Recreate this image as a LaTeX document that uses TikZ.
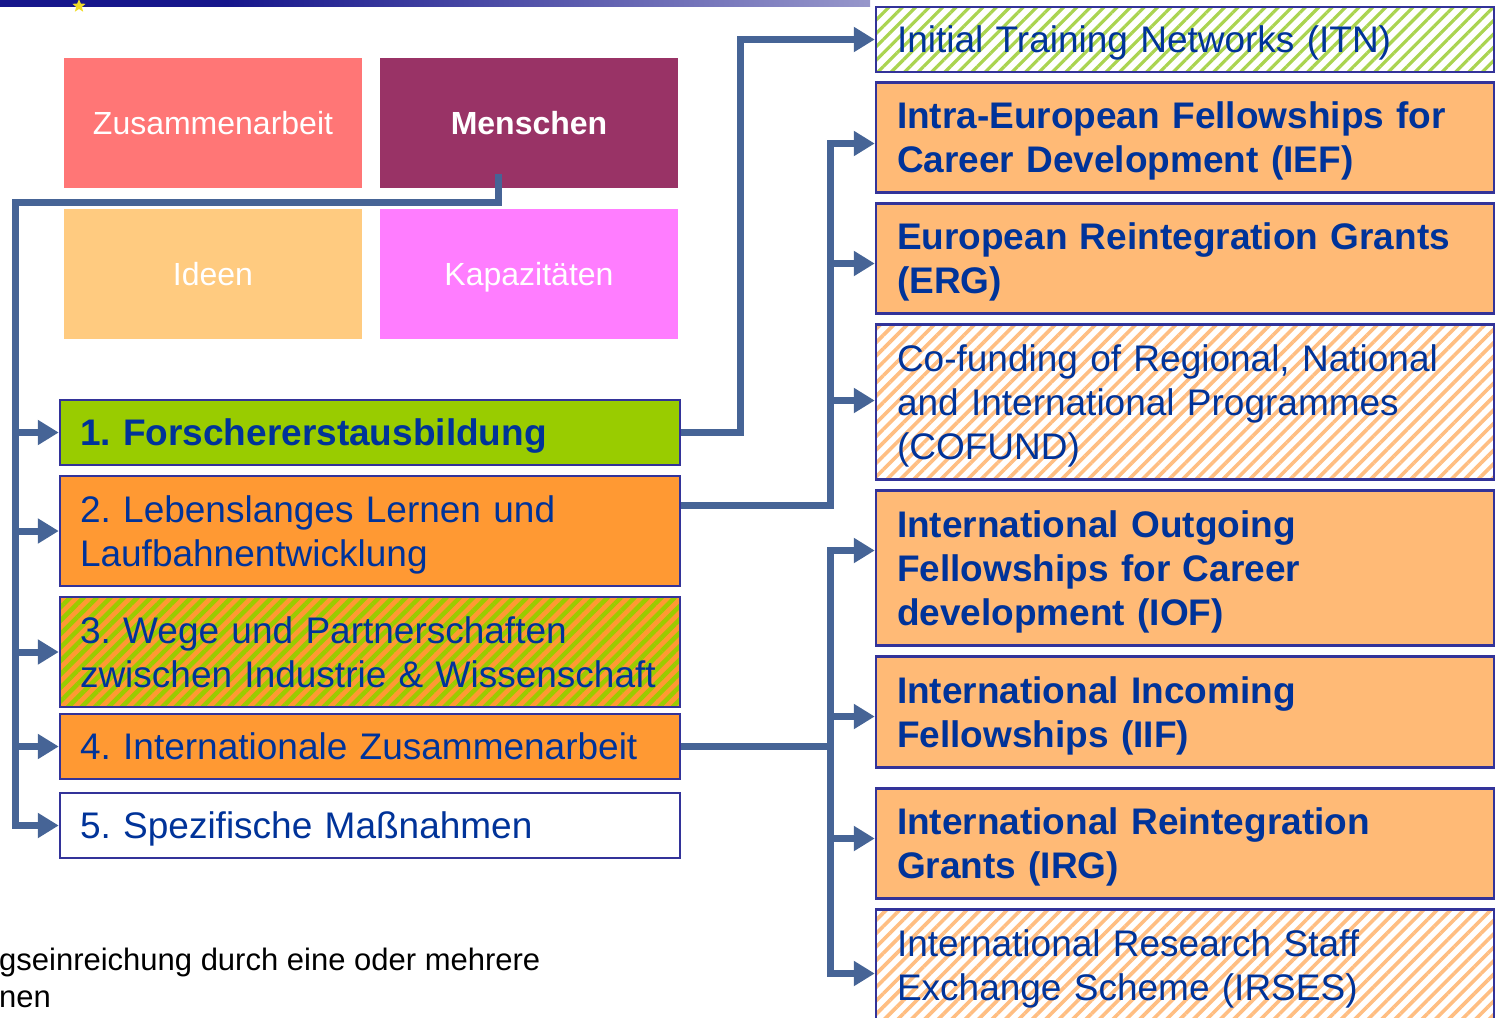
\documentclass[tikz,border=0pt]{standalone}
\usepackage{fontspec}
\setmainfont{Liberation Sans}
\usetikzlibrary{arrows.meta,patterns.meta,shapes.geometric,calc}
\definecolor{barnavy}{RGB}{22,22,140}
\definecolor{barlight}{RGB}{238,238,245}
\definecolor{bord}{RGB}{51,51,153}
\definecolor{txtblue}{RGB}{0,51,153}
\definecolor{conncol}{RGB}{70,100,150}
\definecolor{zusred}{RGB}{255,118,118}
\definecolor{menpurple}{RGB}{153,51,102}
\definecolor{ideorange}{RGB}{255,203,128}
\definecolor{kappink}{RGB}{255,125,255}
\definecolor{fgreen}{RGB}{153,204,0}
\definecolor{forange}{RGB}{255,153,51}
\definecolor{lorange}{RGB}{255,186,118}
\definecolor{stgreen}{RGB}{170,212,80}
\definecolor{storange}{RGB}{255,190,130}
\definecolor{staryellow}{RGB}{240,220,40}
\pgfdeclarehorizontalshading{barshade}{100bp}{color(0bp)=(barnavy); color(38bp)=(barnavy); color(100bp)=(barlight)}
\newcommand{\ustrutA}{\rule[-9pt]{0pt}{44.5pt}}
\newcommand{\ustrutB}{\rule[-9pt]{0pt}{9pt}}
\newcommand{\ustrutC}{\rule[-8pt]{0pt}{38.9pt}}
\newcommand{\ustrutD}{\rule[-8pt]{0pt}{38.2pt}}
\newcommand{\ustrutE}{\rule[-8pt]{0pt}{8pt}}
\frenchspacing
\begin{document}
\begin{tikzpicture}[x=1pt,y=-1pt,
  >={Triangle[length=21pt,width=24pt]},
  tbox/.style={minimum width=298pt, minimum height=130pt, inner sep=0pt, text=white,
    font=\fontsize{32}{38}\selectfont, execute at begin node=\ustrutC},
  item/.style={draw=bord, line width=2.5pt, text=txtblue, font=\fontsize{37}{44}\selectfont,
    align=left, inner ysep=0pt, minimum height=65pt,
    execute at begin node=\ustrutA, execute at end node=\ustrutB},
  boldf/.style={font=\fontsize{37}{44}\selectfont\bfseries},
  litem/.style={item, minimum width=620pt, text width=580pt, inner xsep=20pt},
  ritem/.style={item, minimum width=618pt, text width=576pt, inner xsep=21pt},
  stripeGO/.style={preaction={fill=forange},
    preaction={pattern={Lines[angle=45,distance=9.5pt,line width=4.5pt]}, pattern color=fgreen}},
  stripeITN/.style={preaction={fill=white},
    preaction={pattern={Lines[angle=45,distance=9.5pt,line width=3.2pt]}, pattern color=stgreen}},
  stripeCOF/.style={preaction={fill=white},
    preaction={pattern={Lines[angle=45,distance=9.5pt,line width=3.6pt]}, pattern color=storange}},
  conn/.style={draw=conncol, line width=7pt}
]
\useasboundingbox (0,0) rectangle (1495,1017);

% top bar
\shade[shading=barshade] (0,-1) rectangle (870,6.5);
\node[star, star points=5, star point ratio=2.3, fill=staryellow, inner sep=0pt, minimum size=14pt] (eustar) at (79,6) {};

% top-left boxes
\node[tbox, fill=zusred] (zus) at (213,123) {Zusammenarbeit};
\node[tbox, fill=menpurple, font=\fontsize{32}{38}\selectfont\bfseries] (men) at (529,123) {Menschen};
\node[tbox, fill=ideorange] (ide) at (213,274) {Ideen};
\node[tbox, fill=kappink] (kap) at (529,274) {Kapazitäten};

% left items
\node[litem, fill=fgreen, boldf] (b1) at (370,432.5) {1. Forschererstausbildung};
\node[litem, fill=forange, minimum height=110pt] (b2) at (370,531) {2. Lebenslanges Lernen und\\Laufbahnentwicklung};
\node[litem, stripeGO, minimum height=110pt] (b3) at (370,652) {3. Wege und Partnerschaften\\zwischen Industrie \& Wissenschaft};
\node[litem, fill=forange] (b4) at (370,746.5) {4. Internationale Zusammenarbeit};
\node[litem, fill=white] (b5) at (370,825.5) {5. Spezifische Maßnahmen};

% right items
\node[ritem, stripeITN] (itn) at (1185,39.5) {Initial Training Networks (ITN)};
\node[ritem, fill=lorange, boldf, minimum height=110pt] (ief) at (1185,137.5) {Intra-European Fellowships for\\Career Development (IEF)};
\node[ritem, fill=lorange, boldf, minimum height=110pt] (erg) at (1185,258.5) {European Reintegration Grants\\(ERG)};
\node[ritem, stripeCOF, minimum height=155pt] (cof) at (1185,402) {Co-funding of Regional, National\\and International Programmes\\(COFUND)};
\node[ritem, fill=lorange, boldf, minimum height=155pt] (iof) at (1185,568) {International Outgoing\\Fellowships for Career\\development (IOF)};
\node[ritem, fill=lorange, boldf, minimum height=111pt] (iif) at (1185,712) {International Incoming\\Fellowships (IIF)};
\node[ritem, fill=lorange, boldf, minimum height=110pt] (irg) at (1185,843.5) {International Reintegration\\Grants (IRG)};
\node[ritem, stripeCOF, minimum height=111pt] (irs) at (1185,965) {International Research Staff\\Exchange Scheme (IRSES)};

% bottom note
\node[anchor=west, font=\fontsize{31}{37}\selectfont, align=left, inner sep=0pt,
  execute at begin node=\ustrutD, execute at end node=\ustrutE] (note) at (-1,981.5)
  {gseinreichung durch eine oder mehrere\\nen};

% left trunk
\coordinate (mstart) at ($(men.south)+(-31,-14)$);
\coordinate (tB) at (15,202);
\draw[conn,->] (mstart) -- (mstart |- tB) -- (tB) -- (tB |- b5.west) -- (b5.west);
\foreach \n in {b1,b2,b3,b4} \draw[conn,->] (tB |- \n.west) -- (\n.west);

% group 1
\coordinate (r1) at (740,0);
\draw[conn,->] (b1.east) -- (b1.east -| r1) -- (r1 |- itn.west) -- (itn.west);

% group 2
\coordinate (r2) at (830,505);
\coordinate (pief) at ($(ief.west)+(0,6)$);
\coordinate (perg) at ($(erg.west)+(0,5)$);
\coordinate (pcof) at ($(cof.west)+(0,-1.5)$);
\draw[conn,<-] (pief) -- (r2 |- pief) -- (r2) -- (b2.east |- r2);
\draw[conn,->] (r2 |- perg) -- (perg);
\draw[conn,->] (r2 |- pcof) -- (pcof);

% group 4
\coordinate (r4) at (830,0);
\coordinate (piof) at ($(iof.west)+(0,-17.5)$);
\coordinate (piif) at ($(iif.west)+(0,4.5)$);
\coordinate (pirg) at ($(irg.west)+(0,-5)$);
\coordinate (pirs) at ($(irs.west)+(0,8.5)$);
\draw[conn,<->] (piof) -- (r4 |- piof) -- (r4 |- pirs) -- (pirs);
\draw[conn,->] (r4 |- piif) -- (piif);
\draw[conn,->] (r4 |- pirg) -- (pirg);
\draw[conn] (b4.east) -- (b4.east -| r4);
\end{tikzpicture}
\end{document}
